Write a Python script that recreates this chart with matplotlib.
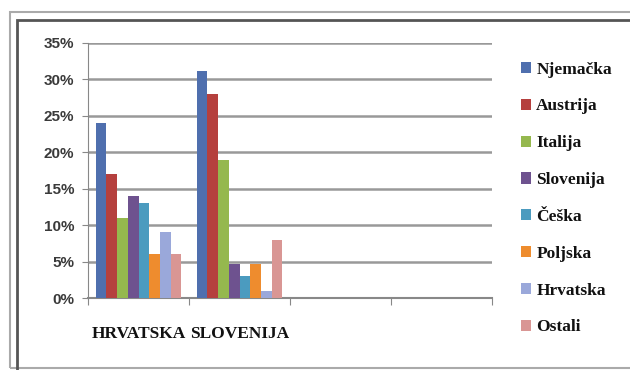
import matplotlib
matplotlib.use('Agg')
import matplotlib.pyplot as plt
from matplotlib.patches import Rectangle
import numpy as np

categories = ['HRVATSKA', 'SLOVENIJA', '', '']
series = ['Njemačka', 'Austrija', 'Italija', 'Slovenija', 'Češka', 'Poljska', 'Hrvatska', 'Ostali']
hrvatska = [24, 17, 11, 14, 13, 6, 9.1, 6]
slovenija = [31.1, 28, 18.9, 4.7, 3, 4.7, 0.9, 8]
colors = ['#4F6FAE', '#B5403E', '#95B84E', '#6E528F', '#4B9BBF', '#EE8C2E', '#9AA8DA', '#D99694']

plt.rcParams['font.family'] = ['Liberation Serif', 'DejaVu Serif']

fig = plt.figure(figsize=(6.3, 3.7), dpi=100)
ax = fig.add_axes([88/630, 1-298/370, 404/630, 255/370])

n = len(series)
bw = 0.845 / n
x0 = np.arange(len(categories)) + 0.5
for i in range(n):
    vals = [hrvatska[i], slovenija[i], 0, 0]
    ax.bar(x0 + (i - (n-1)/2) * bw, vals, width=bw, color=colors[i], label=series[i], zorder=3)

ax.set_xlim(0, 4)
ax.set_ylim(0, 35)
ax.set_yticks(range(0, 36, 5))
ax.set_yticklabels([f'{v}%' for v in range(0, 36, 5)], fontsize=11, color='#3a3a3a',
                   family=['Liberation Sans', 'DejaVu Sans'], fontweight='bold')
ax.yaxis.grid(True, color='#999999', linewidth=1.8, zorder=0)
ax.set_xticks([0, 1, 2, 3, 4])
ax.set_xticklabels([])
ax.tick_params(axis='x', length=5, color='#888888', direction='out')
ax.tick_params(axis='y', length=4, color='#888888', pad=6)
for s in ['top', 'right']:
    ax.spines[s].set_visible(False)
ax.spines['left'].set_color('#888888')
ax.spines['bottom'].set_color('#888888')
ax.spines['bottom'].set_linewidth(1.5)

for j, c in enumerate(categories[:2]):
    ax.text(x0[j], -4.9, c, ha='center', va='center', fontsize=12.5, fontweight='bold',
            color='#111111', transform=ax.transData, clip_on=False)

leg = fig.legend(loc='upper left', bbox_to_anchor=(505/630, 1-46/370), frameon=False,
                 prop={'weight': 'bold', 'size': 12.5}, handlelength=0.6, handleheight=0.6,
                 handletextpad=0.3, labelspacing=1.2)
for t in leg.get_texts():
    t.set_color('#111111')

fig.add_artist(Rectangle((10/630, 2/370), 700/630, 356/370, transform=fig.transFigure,
                         fill=False, edgecolor='#aaaaaa', linewidth=1.5))
fig.add_artist(Rectangle((17/630, -10/370), 700/630, 360/370, transform=fig.transFigure,
                         fill=False, edgecolor='#555555', linewidth=2))

fig.savefig('out.png', dpi=100)
